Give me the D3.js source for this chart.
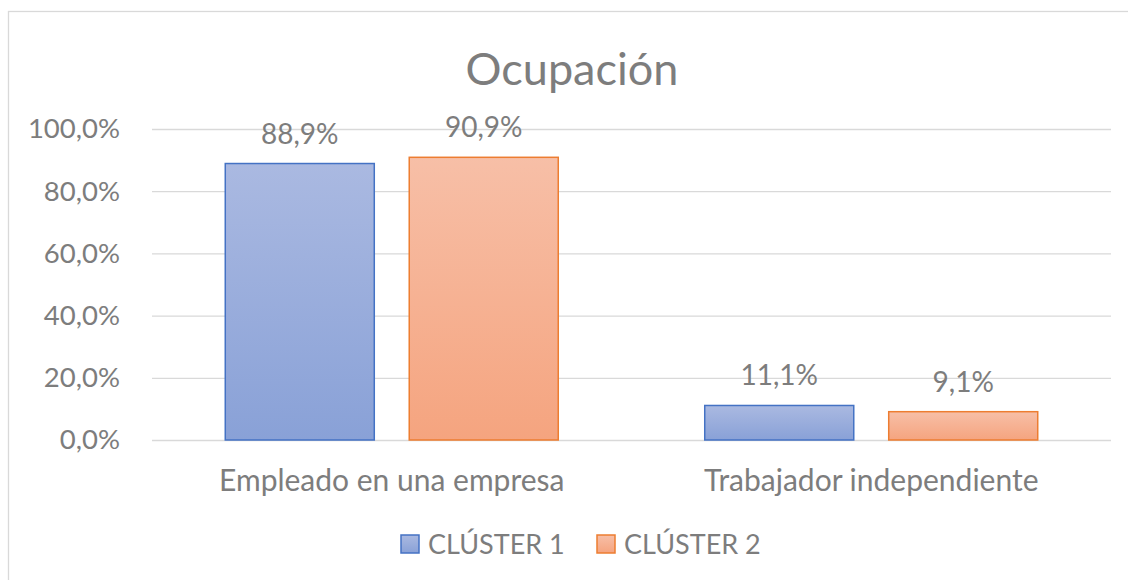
<!DOCTYPE html>
<html lang="es">
<head>
    <meta charset="UTF-8">
    <title>Ocupación</title>
    <script src="https://cdn.jsdelivr.net/npm/d3@7/dist/d3.min.js"></script>
    <style>
        html, body {
            margin: 0;
            background: #fff;
        }
        text {
            font-family: Lato, "Open Sans", sans-serif;
            fill: #7d7d7d;
        }
    </style>
</head>
<body>
<script>

    // data
    var categories = ["Empleado en una empresa", "Trabajador independiente"];
    var seriesNames = ["CLÚSTER 1", "CLÚSTER 2"];
    var cluster1 = [88.9, 11.1];
    var cluster2 = [90.9, 9.1];
    var yTicks = [0, 20, 40, 60, 80, 100];

    var width = 1128, height = 580;
    var plot = {left: 152, right: 1111, top: 129, bottom: 440};

    var locale = d3.formatLocale({decimal: ",", thousands: ".", grouping: [3], currency: ["", "€"]});
    var fmt = locale.format(".1f");

    var svg = d3.select("body").append("svg")
        .attr("width", width)
        .attr("height", height);

    // gradients for the bars
    var defs = svg.append("defs");
    var grads = [
        {id: "g0", top: "#aab9e1", bottom: "#89a1d7"},
        {id: "g1", top: "#f7bfa7", bottom: "#f5a47f"}
    ];
    grads.forEach(function (g) {
        var lg = defs.append("linearGradient").attr("id", g.id)
            .attr("x1", 0).attr("y1", 0).attr("x2", 0).attr("y2", 1);
        lg.append("stop").attr("offset", "0%").attr("stop-color", g.top);
        lg.append("stop").attr("offset", "100%").attr("stop-color", g.bottom);
    });
    var strokes = ["#4472c4", "#ed7d31"];

    // chart frame
    svg.append("rect")
        .attr("x", 8.5).attr("y", 11.5)
        .attr("width", 1200).attr("height", 700)
        .attr("fill", "none")
        .attr("stroke", "#d9d9d9")
        .attr("stroke-width", 1.3);

    svg.append("text")
        .attr("x", 572)
        .attr("y", 85)
        .attr("text-anchor", "middle")
        .style("font-size", "45px")
        .text("Ocupación");

    var y = d3.scaleLinear()
        .domain([0, 100])
        .range([plot.bottom, plot.top]);

    var x0 = d3.scaleBand()
        .domain(categories)
        .range([plot.left, plot.right])
        .paddingInner(0.3055)
        .paddingOuter(0.1528);

    var x1 = d3.scaleBand()
        .domain(seriesNames)
        .range([0, x0.bandwidth()])
        .paddingInner(0.19);

    // gridlines + y labels
    var yAxis = d3.axisLeft(y)
        .tickValues(yTicks)
        .tickSize(-(plot.right - plot.left))
        .tickPadding(32)
        .tickFormat(function (d) { return fmt(d) + "%"; });

    var gy = svg.append("g")
        .attr("class", "axis y")
        .attr("transform", "translate(" + plot.left + ",0)")
        .call(yAxis);
    gy.select(".domain").remove();
    gy.selectAll("line").attr("stroke", "#d9d9d9").attr("stroke-width", 1.3);
    gy.selectAll("text").style("font-size", "27.5px").attr("fill", "#7d7d7d");

    // x labels
    var xAxis = d3.axisBottom(x0).tickSize(0).tickPadding(30);
    var gx = svg.append("g")
        .attr("class", "axis x")
        .attr("transform", "translate(0," + plot.bottom + ")")
        .call(xAxis);
    gx.select(".domain").remove();
    gx.selectAll("text").style("font-size", "30px").attr("fill", "#7d7d7d");

    var series = [cluster1, cluster2];

    var groups = svg.selectAll("g.cat")
        .data(categories)
        .enter().append("g")
        .attr("class", "cat")
        .attr("transform", function (d) { return "translate(" + x0(d) + ",0)"; });

    groups.each(function (cat, ci) {
        var g = d3.select(this);
        series.forEach(function (vals, si) {
            var v = vals[ci];
            g.append("rect")
                .attr("x", x1(seriesNames[si]))
                .attr("y", y(v))
                .attr("width", x1.bandwidth())
                .attr("height", y(0) - y(v))
                .attr("fill", "url(#g" + si + ")")
                .attr("stroke", strokes[si])
                .attr("stroke-width", 1.5);
            g.append("text")
                .attr("x", x1(seriesNames[si]) + x1.bandwidth() / 2)
                .attr("y", y(v) - 20)
                .attr("text-anchor", "middle")
                .style("font-size", "28px")
                .text(fmt(v) + "%");
        });
    });

    // legend
    var legendX = [401, 597];
    var legend = svg.selectAll("g.legend")
        .data(seriesNames)
        .enter().append("g")
        .attr("class", "legend")
        .attr("transform", function (d, i) { return "translate(" + legendX[i] + ",535)"; });
    legend.append("rect")
        .attr("width", 18).attr("height", 18)
        .attr("fill", function (d, i) { return "url(#g" + i + ")"; })
        .attr("stroke", function (d, i) { return strokes[i]; })
        .attr("stroke-width", 1.5);
    legend.append("text")
        .attr("x", 27)
        .attr("y", 18.5)
        .style("font-size", "27px")
        .text(function (d) { return d; });

</script>
</body>
</html>
